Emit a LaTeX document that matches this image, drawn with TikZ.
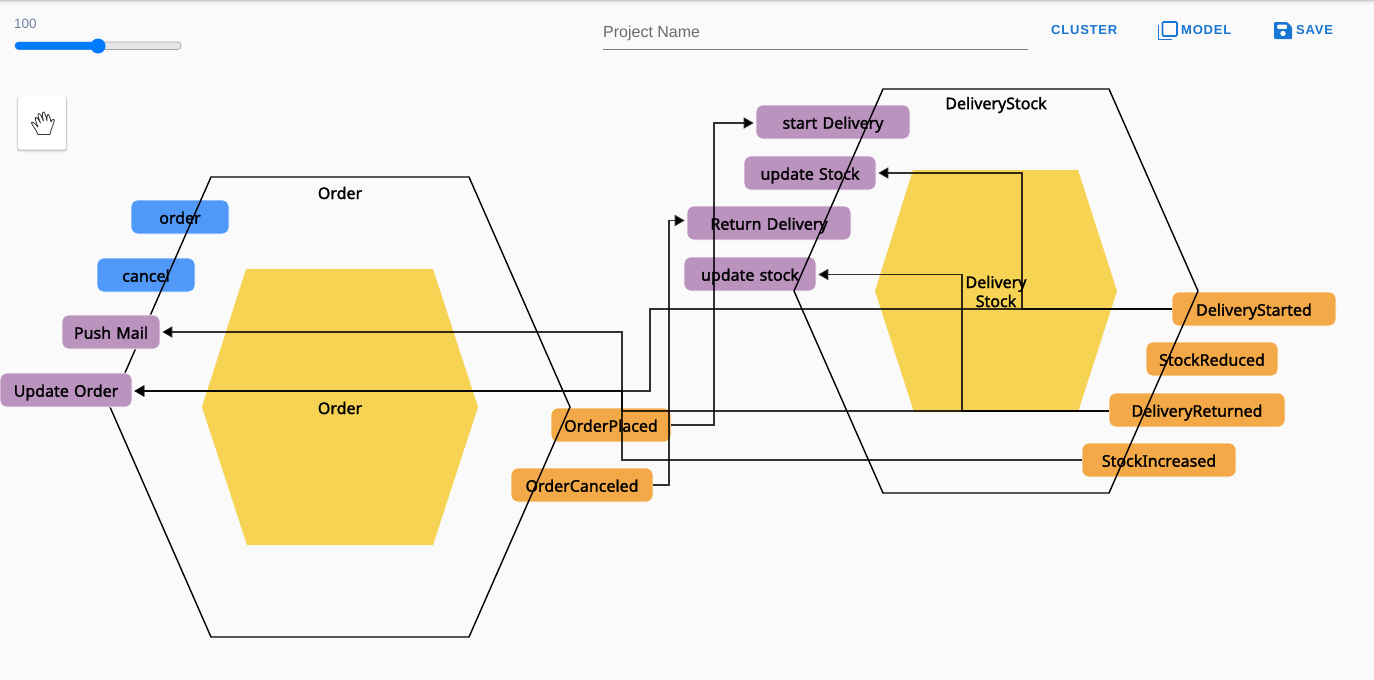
\documentclass[tikz,border=0pt]{standalone}
\usepackage{xcolor}
\usepackage{fontspec}
\setmainfont{Noto Sans}
\newfontfamily\cardfont[FakeBold=1.6,WordSpace=1.25]{Noto Sans}
\newfontfamily\uifont{Liberation Sans}
\newfontfamily\btnfont[LetterSpace=6]{Liberation Sans}
\usetikzlibrary{positioning,shapes,arrows.meta}
\definecolor{pagebg}{HTML}{FAFAFA}
\definecolor{hexfill}{HTML}{F7D353}
\definecolor{cmdblue}{HTML}{5099F9}
\definecolor{policypurple}{HTML}{BB93BF}
\definecolor{eventorange}{HTML}{F3A947}
\definecolor{uiblue}{HTML}{1976D2}
\definecolor{sliderblue}{HTML}{007BFF}
\definecolor{valuegray}{HTML}{6F7FA0}
\tikzset{
  card/.style={draw=white, line width=.6pt, rounded corners=7pt, inner sep=0pt, minimum height=34pt,
    text height=16pt, text depth=2.6pt, font=\cardfont\fontsize{16}{18}\selectfont},
  command/.style={card, fill=cmdblue, minimum width=98pt},
  policy/.style={card, fill=policypurple},
  event/.style={card, fill=eventorange},
  hexlabel/.style={font=\cardfont\fontsize{16}{19}\selectfont, align=center, inner sep=0pt},
  outline/.style={draw=black, line width=1.4pt, line join=miter},
  flow/.style={draw=black, draw opacity=.8, line width=1.8pt},
  flowto/.style={flow, -{Triangle[length=10pt,width=11pt]}, shorten >=2pt},
  btn/.style={font=\btnfont\fontsize{13}{15}\selectfont\bfseries, text=uiblue, inner sep=0pt}
}
\begin{document}
\begin{tikzpicture}[x=1pt,y=-1pt]
  \useasboundingbox (0,0) rectangle (1374,680);
  \fill[pagebg] (0,0) rectangle (1374,680);
  \fill[black!20] (0,0) rectangle (1374,1);
  \fill[black!12] (0,1) rectangle (1374,2);
  \fill[black!5] (0,2) rectangle (1374,3.5);

  % toolbar
  \node[font=\uifont\fontsize{13.5}{15}\selectfont, text=valuegray, anchor=west, inner sep=0pt] (zoomvalue) at (14,23.5) {100};
  \fill[black!10, draw=black!35, line width=.7pt, rounded corners=3.5pt] (15,42) rectangle (181,49.5);
  \fill[sliderblue, rounded corners=3.5pt] (15,42) rectangle (98,49.5);
  \fill[sliderblue] (98,46) circle (7.5);
  \node[font=\uifont\fontsize{16}{18}\selectfont, text=black!58, anchor=west, inner sep=0pt] (projectname) at (603,33) {Project Name};
  \draw[black!50, line width=1pt] (603,49.5) -- (1028,49.5);
  \node[btn, anchor=west] (cluster) at (1051,30.5) {CLUSTER};
  \node[btn, anchor=west] (model) at (1181,30.5) {MODEL};
  \node[btn, anchor=west] (save) at (1296,30.5) {SAVE};
  % model icon
  \draw[uiblue, line width=1.6pt, rounded corners=1pt] (1162.5,22) rectangle (1177,36);
  \draw[uiblue, line width=1.6pt] (1158.5,25) -- (1158.5,39.5) -- (1172,39.5);
  % save icon
  \fill[uiblue, even odd rule, rounded corners=1pt] (1274,22) -- (1287,22) -- (1292,27) -- (1292,39) -- (1274,39) -- cycle
    (1277,24.5) rectangle (1287,29);
  \fill[pagebg] (1283,33.5) circle (2.7);
  % hand tool
  \fill[black!6, rounded corners=3pt] (16.5,97) rectangle (67.5,152.5);
  \fill[black!12, rounded corners=3pt] (17,97) rectangle (67,151.5);
  \fill[black!25, rounded corners=2pt] (17.5,97) rectangle (66.5,150.5);
  \fill[white, rounded corners=2pt] (18,97) rectangle (66,149.5);
  \draw[black!80, line width=.8pt, line join=round, fill=white] (38,134.5) -- (50,134.5)
    .. controls (51,129) and (53,126) .. (54.5,120)
    .. controls (54,118.5) and (52.5,119) .. (51,122)
    .. controls (50,118) and (50,116) .. (48.5,114.5)
    .. controls (47,114) and (47,117) .. (47,121)
    .. controls (46,117) and (45.5,113) .. (43.5,112)
    .. controls (41.5,112) and (42.5,117) .. (43.5,121)
    .. controls (42,118) and (40.5,113) .. (38.5,113.5)
    .. controls (37,114.5) and (39,119) .. (40.5,123)
    .. controls (39,120) and (37,117) .. (35.5,117.5)
    .. controls (34.5,119) and (37,124) .. (38,127)
    .. controls (36,125) and (33,121) .. (31.5,122.5)
    .. controls (31.5,125) and (36,129) .. (38,134.5) -- cycle;

  % bounded contexts
  \fill[hexfill] (246,269) -- (433,269) -- (478,407) -- (433,545) -- (247,545) -- (202,407) -- cycle;
  \fill[hexfill] (913,170) -- (1078,170) -- (1117,291) -- (1078,412) -- (914,412) -- (875,291) -- cycle;

  \node[command] (order) at (180,217) {order};
  \node[command] (cancel) at (146,275) {cancel};
  \node[event, minimum width=120pt] (OrderPlaced) at (611,425) {OrderPlaced};
  \node[event, minimum width=142pt] (OrderCanceled) at (582,485) {OrderCanceled};
  \node[policy, minimum width=154pt] (startDelivery) at (833,122) {start Delivery};
  \node[policy, minimum width=132pt] (updateStockA) at (810,173) {update Stock};
  \node[policy, minimum width=164pt] (returnDelivery) at (769,223) {Return Delivery};
  \node[policy, minimum width=132pt] (updateStockB) at (750,274) {update stock};
  \node[event, minimum width=164pt] (DeliveryStarted) at (1254,309) {DeliveryStarted};
  \node[event, minimum width=132pt] (StockReduced) at (1212,359) {StockReduced};
  \node[event, minimum width=176pt] (DeliveryReturned) at (1197,410) {DeliveryReturned};
  \node[event, minimum width=154pt] (StockIncreased) at (1159,460) {StockIncreased};

  \draw[outline] (211,177) -- (469,177) -- (570,407) -- (469,637) -- (211,637) -- (110,407) -- cycle;
  \draw[outline] (883,89) -- (1109,89) -- (1198,291) -- (1109,493) -- (883,493) -- (794,291) -- cycle;

  \node[policy, minimum width=98pt] (pushMail) at (111,332) {Push Mail};
  \node[policy, minimum width=132pt] (updateOrder) at (66,390) {Update Order};

  \node[hexlabel] (orderTitle) at (340,193) {Order};
  \node[hexlabel] (orderName) at (340,408) {Order};
  \node[hexlabel] (stockTitle) at (996,105) {DeliveryStock};
  \node[hexlabel] (stockName) at (996,291.5) {Delivery\\Stock};

  % bends of the connectors
  \coordinate (bendStart) at (714,300);
  \coordinate (bendReturn) at (669,300);
  \coordinate (bendOrder) at (650,350);
  \coordinate (bendMail) at (622,400);
  \coordinate (bendStock) at (1022,250);
  \coordinate (bendUpdate) at (962,350);

  \draw[flowto] (OrderPlaced.east) -| (bendStart) |- ([yshift=-1pt]startDelivery.west);
  \draw[flowto] (OrderCanceled.east) -| (bendReturn) |- ([yshift=2.5pt]returnDelivery.west);
  \draw[flowto] (DeliveryStarted.west) -| (bendOrder) |- ([yshift=-1pt]updateOrder.east);
  \draw[flowto] (DeliveryStarted.west) -| (bendStock) |- (updateStockA.east);
  \draw[flowto] ([yshift=-1pt]DeliveryReturned.west) -| (bendUpdate) |- ([yshift=-.5pt]updateStockB.east);
  \draw[flowto] ([yshift=-1pt]DeliveryReturned.west) -| (bendMail) |- ([yshift=-1pt]updateOrder.east);
  \draw[flowto] (StockIncreased.west) -| (bendMail) |- (pushMail.east);
\end{tikzpicture}
\end{document}
